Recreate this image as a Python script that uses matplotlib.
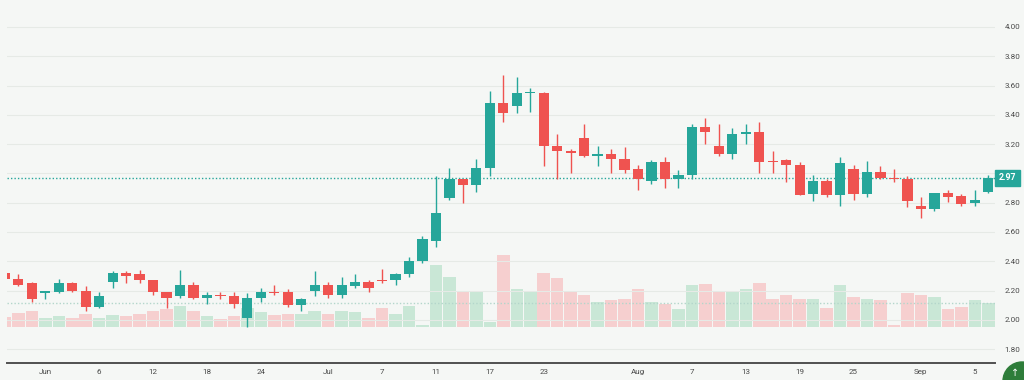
import matplotlib
matplotlib.use("Agg")
import matplotlib.pyplot as plt
import matplotlib.patches as mpatches
import matplotlib.transforms as mtrans
import numpy as np

# ---------------- data ----------------
opens = [2.32, 2.28, 2.25, 2.18, 2.19, 2.25, 2.20, 2.09, 2.26, 2.32, 2.31, 2.27, 2.19, 2.16,
         2.24, 2.15, 2.17, 2.16, 2.01, 2.15, 2.19, 2.19, 2.10, 2.20, 2.24, 2.17,
         2.23, 2.26, 2.27, 2.27, 2.31, 2.40, 2.54, 2.83, 2.96, 2.92, 3.04, 3.48,
         3.46, 3.55, 3.55, 3.19, 3.15, 3.24, 3.12, 3.13, 3.10, 3.03, 2.95, 3.08,
         2.96, 2.99, 3.32, 3.19, 3.13, 3.27, 3.28, 3.08, 3.09, 3.06, 2.86, 2.95,
         2.85, 3.03, 2.86, 3.01, 2.97, 2.96, 2.78, 2.755, 2.865, 2.845, 2.795, 2.875]
highs = [2.32, 2.31, 2.26, 2.20, 2.28, 2.26, 2.23, 2.19, 2.33, 2.33, 2.34, 2.27, 2.19, 2.34,
         2.26, 2.19, 2.19, 2.19, 2.18, 2.22, 2.24, 2.21, 2.15, 2.33, 2.26, 2.29,
         2.31, 2.27, 2.35, 2.32, 2.43, 2.57, 2.98, 3.04, 2.96, 3.10, 3.56, 3.67,
         3.66, 3.58, 3.555, 3.27, 3.17, 3.34, 3.19, 3.17, 3.18, 3.06, 3.09, 3.11,
         3.02, 3.34, 3.38, 3.34, 3.31, 3.34, 3.35, 3.15, 3.10, 3.08, 2.99, 2.96,
         3.11, 3.06, 3.085, 3.05, 3.03, 2.98, 2.84, 2.865, 2.89, 2.86, 2.89, 2.99]
lows = [2.27, 2.23, 2.12, 2.14, 2.18, 2.19, 2.06, 2.08, 2.22, 2.25, 2.25, 2.17, 2.08, 2.15,
        2.14, 2.11, 2.14, 2.08, 1.95, 2.12, 2.17, 2.09, 2.06, 2.16, 2.15, 2.15,
        2.22, 2.19, 2.25, 2.24, 2.29, 2.39, 2.50, 2.82, 2.80, 2.875, 2.98, 3.35,
        3.41, 3.42, 3.05, 2.96, 3.00, 3.11, 3.05, 3.00, 3.00, 2.89, 2.93, 2.90,
        2.90, 2.96, 3.20, 3.12, 3.10, 3.20, 3.00, 3.005, 2.94, 2.85, 2.81, 2.84,
        2.78, 2.82, 2.84, 2.96, 2.94, 2.77, 2.695, 2.745, 2.805, 2.78, 2.775, 2.865]
closes = [2.28, 2.24, 2.14, 2.20, 2.25, 2.20, 2.09, 2.16, 2.32, 2.30, 2.27, 2.19, 2.15, 2.24,
          2.15, 2.17, 2.16, 2.11, 2.15, 2.19, 2.18, 2.10, 2.14, 2.24, 2.17, 2.24,
          2.26, 2.22, 2.265, 2.31, 2.40, 2.55, 2.73, 2.96, 2.92, 3.04, 3.48, 3.41,
          3.55, 3.555, 3.19, 3.15, 3.14, 3.12, 3.13, 3.10, 3.02, 2.96, 3.08, 2.96,
          2.99, 3.32, 3.28, 3.13, 3.27, 3.28, 3.08, 3.075, 3.06, 2.855, 2.95, 2.85,
          3.07, 2.86, 3.01, 2.97, 2.96, 2.81, 2.755, 2.865, 2.84, 2.79, 2.815, 2.97]
volumes = [9.8, 13.2, 15.8, 8.8, 10.5, 8.2, 12.5, 8.2, 11.5, 10.8, 12.5, 15.5, 17.8, 20.5,
           15.8, 10.8, 7.2, 10.5, 18.2, 14.8, 11.2, 12.5, 12.5, 15.8, 12.5, 15.5,
           14.5, 8.2, 18.2, 12.2, 20.8, 1.5, 61.5, 49.8, 35.2, 35.2, 4.8, 71.2,
           37.2, 35.2, 53.2, 48.2, 34.5, 31.5, 24.2, 26.5, 27.8, 37.2, 24.2, 22.5,
           17.5, 41.2, 42.5, 34.8, 34.8, 37.5, 43.5, 27.5, 31.5, 27.5, 27.5, 18.2,
           41.2, 29.2, 27.5, 26.2, 1.2, 33.2, 31.5, 29.5, 17.8, 19.8, 26.5, 23.5]
tick_pos = [3, 7, 11, 15, 19, 24, 28, 32, 36, 40, 47, 51, 55, 59, 63, 68, 72]
tick_labels = ["Jun", "6", "12", "18", "24", "Jul", "7", "11", "17", "23",
               "Aug", "7", "13", "19", "25", "Sep", "5"]
price_ticks = [1.80, 2.00, 2.20, 2.40, 2.60, 2.80, 3.00, 3.20, 3.40, 3.60, 3.80, 4.00]

# ---------------- style ----------------
BG = "#f5f7f5"
UP = "#26a69a"
DN = "#ef5350"
VUP = "#c9e7d6"
VDN = "#f6cfcf"
TXT = "#4a4a4a"
FONT = ["Roboto", "DejaVu Sans"]

W, H = 1024, 380
fig = plt.figure(figsize=(W / 100, H / 100), dpi=100, facecolor=BG)
rect = [7 / W, 17 / H, 988 / W, 363 / H]

x = np.arange(len(opens))
o = np.array(opens); c = np.array(closes); hi = np.array(highs); lo = np.array(lows)
up = c >= o

# volume layer
axv = fig.add_axes(rect)
axv.set_facecolor(BG)
axv.bar(x, volumes, width=0.93, color=[VUP if u else VDN for u in up], zorder=2)
axv.axhline(volumes[-1], color="#b3d6cb", lw=1, ls=(0, (1, 1.5)), zorder=3)
axv.set_ylim(-36.5, 326.5)
axv.set_xlim(0.156, 73.5)
axv.axis("off")

# price layer
ax = fig.add_axes(rect)
ax.patch.set_alpha(0)
ax.set_xlim(0.156, 73.5)
ax.set_ylim(1.7049, 4.1844)
for p in price_ticks:
    ax.axhline(p, color="#e6eae6", lw=0.8, zorder=0)

ax.vlines(x, lo, hi, colors=[UP if u else DN for u in up], lw=1.0, zorder=3)
body = np.maximum(np.abs(c - o), 0.009)
ax.bar(x, body, bottom=np.minimum(o, c), width=0.76,
       color=[UP if u else DN for u in up], zorder=4)

ax.axhline(closes[-1], color=UP, lw=1.0, ls=(0, (1, 1.5)), zorder=2)

for s in ["top", "left", "right"]:
    ax.spines[s].set_visible(False)
ax.spines["bottom"].set_color("#505050")
ax.spines["bottom"].set_linewidth(1.4)

ax.yaxis.tick_right()
ax.set_yticks(price_ticks)
ax.set_yticklabels([f"{p:.2f}" for p in price_ticks], fontsize=5.8, color=TXT, family=FONT)
ax.tick_params(axis="y", length=0, pad=7)
ax.set_xticks(tick_pos)
ax.set_xticklabels(tick_labels, fontsize=5.8, color=TXT, family=FONT)
ax.tick_params(axis="x", length=0, pad=4)

# last price label (covers the 3.00 tick label, as in the original)
trans = mtrans.blended_transform_factory(ax.transAxes, ax.transData)
ax.text(1.0 + 4 / 988, closes[-1], f"{closes[-1]:.2f}", transform=trans,
        ha="left", va="center", fontsize=6.3, color="white", fontweight="bold", family=FONT,
        bbox=dict(boxstyle="square,pad=0.4", fc=UP, ec=UP), zorder=10, clip_on=False)

# scroll button (partially visible)
circ = mpatches.Ellipse((1022 / W, -1 / H), 38 / W, 38 / H, transform=fig.transFigure,
                        color="#2e7d3a", clip_on=False)
fig.add_artist(circ)
fig.text(1015 / W, 2 / H, "↑", color="white", fontsize=7, ha="center", va="bottom")

fig.savefig("out.png", dpi=100, facecolor=BG)
